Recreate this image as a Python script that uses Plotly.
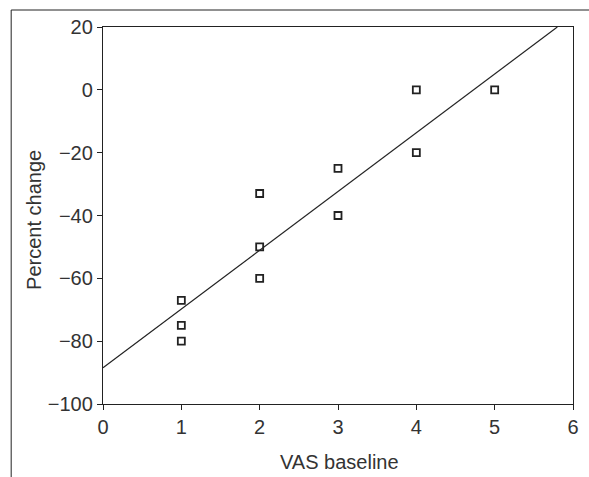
import plotly.graph_objects as go

vas_baseline = [1, 1, 1, 2, 2, 2, 3, 3, 4, 4, 5]
percent_change = [-67, -75, -80, -33, -50, -60, -25, -40, 0, -20, 0]
fit_x = [0, 5.8]
fit_y = [-88.5, 20]
x_ticks = [0, 1, 2, 3, 4, 5, 6]
y_ticks = [20, 0, -20, -40, -60, -80, -100]

W, H = 589, 477
L, R, T, B = 103, 10, 27, 73
pw, ph = W - L - R, H - T - B

fig = go.Figure()
fig.add_trace(go.Scatter(x=fit_x, y=fit_y, mode="lines",
                         line=dict(color="#222222", width=1.2), showlegend=False))
fig.add_trace(go.Scatter(x=vas_baseline, y=percent_change, mode="markers",
                         marker=dict(symbol="square-open", size=7,
                                     color="#222222", line=dict(width=1.8)),
                         showlegend=False))

font = dict(family="Liberation Sans, Arial, sans-serif", size=20, color="#333333")
fig.update_layout(
    width=W, height=H,
    margin=dict(l=L, r=R, t=T, b=B),
    paper_bgcolor="white", plot_bgcolor="white",
    font=font,
    xaxis=dict(range=[0, 6], tickvals=x_ticks, ticktext=[str(v) for v in x_ticks],
               showgrid=False, zeroline=False, showline=True, linecolor="#222222",
               linewidth=1.3, mirror=True, ticks="outside", ticklen=5,
               tickcolor="#222222", tickfont=font),
    yaxis=dict(range=[-100, 20], tickvals=y_ticks,
               ticktext=[("\u2212" + str(-v)) if v < 0 else str(v) for v in y_ticks],
               showgrid=False, zeroline=False, showline=True, linecolor="#222222",
               linewidth=1.3, mirror=True, ticks="outside", ticklen=5,
               tickcolor="#222222", tickfont=font),
)

def px_x(p):
    return (p - L) / pw

def px_y(p):
    return (H - B - p) / ph

fig.add_annotation(text="VAS baseline", xref="paper", yref="paper",
                   x=px_x(343), y=px_y(462), showarrow=False, font=font,
                   xanchor="center", yanchor="middle")
fig.add_annotation(text="Percent change", xref="paper", yref="paper",
                   x=px_x(33), y=px_y(220), showarrow=False, font=font,
                   textangle=-90, xanchor="center", yanchor="middle")

fig.add_shape(type="rect", xref="paper", yref="paper",
              x0=px_x(10), x1=px_x(620), y0=px_y(10), y1=px_y(500),
              line=dict(color="#222222", width=1), fillcolor="rgba(0,0,0,0)",
              layer="below")

fig.write_html("out.html", config={"displayModeBar": False},
               post_script="document.body.style.margin='0';document.body.style.overflow='hidden';")
